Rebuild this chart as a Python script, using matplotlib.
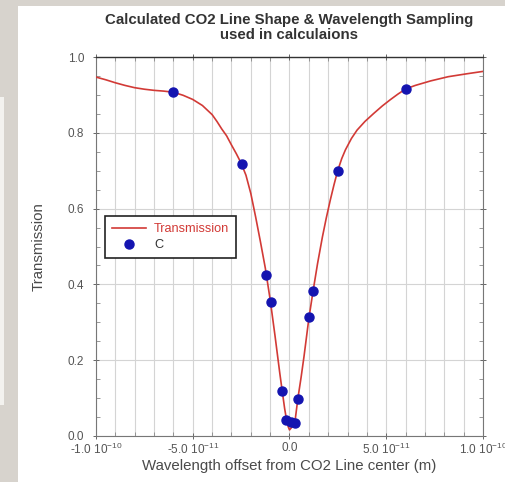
"""
Calculated CO2 line shape with the wavelength samples used in the calculations.
"""
import matplotlib
matplotlib.use("Agg")
import matplotlib.pyplot as plt
from matplotlib.lines import Line2D
from matplotlib.patches import Rectangle
from matplotlib.ticker import FixedLocator, FixedFormatter, MultipleLocator

plt.rcParams["font.family"] = ["Liberation Sans", "DejaVu Sans"]
plt.rcParams["mathtext.fontset"] = "custom"
plt.rcParams["mathtext.rm"] = "Liberation Sans"

# ----------------------------------------------------------------------
# data (x in units of 1e-11 m)
curve_x = [-10.0, -9.5, -9.0, -8.5, -8.0, -7.5, -7.0, -6.5, -6.0, -5.5,
           -5.0, -4.5, -4.0, -3.75, -3.5, -3.25, -3.0, -2.75, -2.5, -2.25,
           -2.0, -1.75, -1.5, -1.25, -1.0, -0.75, -0.5, -0.38, -0.25, -0.15,
           -0.07, 0.0, 0.1, 0.2, 0.3, 0.43, 0.6, 0.75, 0.9, 1.0,
           1.22, 1.45, 1.7, 1.9, 2.11, 2.3, 2.49, 2.7, 2.89, 3.2,
           3.49, 3.9, 4.35, 4.8, 5.2, 5.6, 6.01, 6.5, 7.3, 8.2,
           9.2, 10.0]
curve_y = [0.947, 0.940, 0.932, 0.925, 0.919, 0.915, 0.912, 0.910, 0.907, 0.899,
           0.888, 0.872, 0.848, 0.830, 0.810, 0.792, 0.768, 0.745, 0.720, 0.688,
           0.640, 0.578, 0.512, 0.443, 0.360, 0.265, 0.165, 0.120, 0.072, 0.042,
           0.025, 0.016, 0.022, 0.030, 0.045, 0.098, 0.155, 0.210, 0.270, 0.310,
           0.383, 0.455, 0.525, 0.575, 0.623, 0.663, 0.700, 0.732, 0.755, 0.785,
           0.807, 0.830, 0.851, 0.871, 0.887, 0.902, 0.916, 0.925, 0.937, 0.948,
           0.956, 0.962]

sample_x = [-6.0, -2.47, -1.19, -0.98, -0.38, -0.19, 0.07, 0.29, 0.43, 1.0, 1.22, 2.49, 6.01]
sample_y = [0.907, 0.717, 0.425, 0.353, 0.120, 0.043, 0.037, 0.035, 0.098, 0.313, 0.383, 0.700, 0.916]

xtick_vals = [-1.0e-10, -5.0e-11, 0.0, 5.0e-11, 1.0e-10]
xtick_labels = ["-1.0 10$^{-10}$", "-5.0 10$^{-11}$", "0.0", "5.0 10$^{-11}$", "1.0 10$^{-10}$"]
ytick_vals = [0.0, 0.2, 0.4, 0.6, 0.8, 1.0]

RED = "#d23a36"
BLUE = "#1414b0"
GREY_TXT = "#4a4a4a"

# ----------------------------------------------------------------------
W, H = 506, 482
fig = plt.figure(figsize=(W / 100, H / 100), dpi=100, facecolor="#d7d3cd")
# white slide panel + pale strip on the left edge (drawn behind the axes)
fig.patches.append(Rectangle((18 / W, 0), 1 - 18 / W, 1 - 6 / H, transform=fig.transFigure,
                             facecolor="white", edgecolor="none", zorder=-10))
fig.patches.append(Rectangle((0, 1 - 405 / H), 4 / W, 308 / H, transform=fig.transFigure,
                             facecolor="#f3f2ef", edgecolor="none", zorder=-10))

ax = fig.add_axes([96 / W, 1 - 436 / H, (483 - 96) / W, (436 - 57) / H])
ax.set_zorder(1)
ax.set_facecolor("white")

ax.plot([v * 1e-11 for v in curve_x], curve_y, color=RED, lw=1.2, zorder=3,
        label="Transmission")
ax.plot([v * 1e-11 for v in sample_x], sample_y, "o", color=BLUE, ms=6.5, zorder=4,
        label="C")

ax.set_xlim(-1.0e-10, 1.0e-10)
ax.set_ylim(0, 1.0)

ax.xaxis.set_major_locator(FixedLocator(xtick_vals))
ax.xaxis.set_major_formatter(FixedFormatter(xtick_labels))
ax.xaxis.set_minor_locator(MultipleLocator(1e-11))
ax.yaxis.set_major_locator(FixedLocator(ytick_vals))
ax.yaxis.set_major_formatter(FixedFormatter(["%.1f" % v for v in ytick_vals]))
ax.yaxis.set_minor_locator(MultipleLocator(0.05))

ax.grid(which="both", axis="x", color="#d4d4d4", lw=0.8, zorder=0)
ax.grid(which="major", axis="y", color="#d4d4d4", lw=0.8, zorder=0)

ax.tick_params(which="major", direction="inout", length=5, width=0.7, color="#666",
               top=True, right=True, labelsize=8.5, labelcolor="#555", pad=2)
ax.tick_params(axis="y", which="major", pad=6)
ax.tick_params(which="minor", direction="in", length=3, width=0.6, color="#888",
               top=True, right=True)
for side in ("left", "bottom", "right"):
    ax.spines[side].set_color("#777")
    ax.spines[side].set_linewidth(0.8)
ax.spines["top"].set_color("#333")
ax.spines["top"].set_linewidth(1.0)

ax.set_xlabel("Wavelength offset from CO2 Line center (m)", fontsize=10.8,
              color=GREY_TXT, labelpad=1)
ax.set_ylabel("Transmission", fontsize=10.8, color=GREY_TXT, labelpad=16)
ax.set_title("Calculated CO2 Line Shape & Wavelength Sampling\nused in calculaions",
             fontsize=10.8, fontweight="bold", color="#333", pad=13, linespacing=1.08)

handles = [Line2D([], [], color=RED, lw=1.2),
           Line2D([], [], ls="none", marker="o", color=BLUE, ms=6.5)]
leg = ax.legend(handles, ["Transmission", "C"], loc="upper left",
                bbox_to_anchor=(0.023, 0.58), borderaxespad=0, fontsize=9.2,
                fancybox=False, framealpha=1, edgecolor="#222", handlelength=2.7,
                labelcolor=[RED, "#333"], borderpad=0.55, labelspacing=0.3,
                handletextpad=0.6)
leg.get_frame().set_linewidth(1.2)

fig.savefig("out.png", dpi=100, facecolor=fig.get_facecolor())
